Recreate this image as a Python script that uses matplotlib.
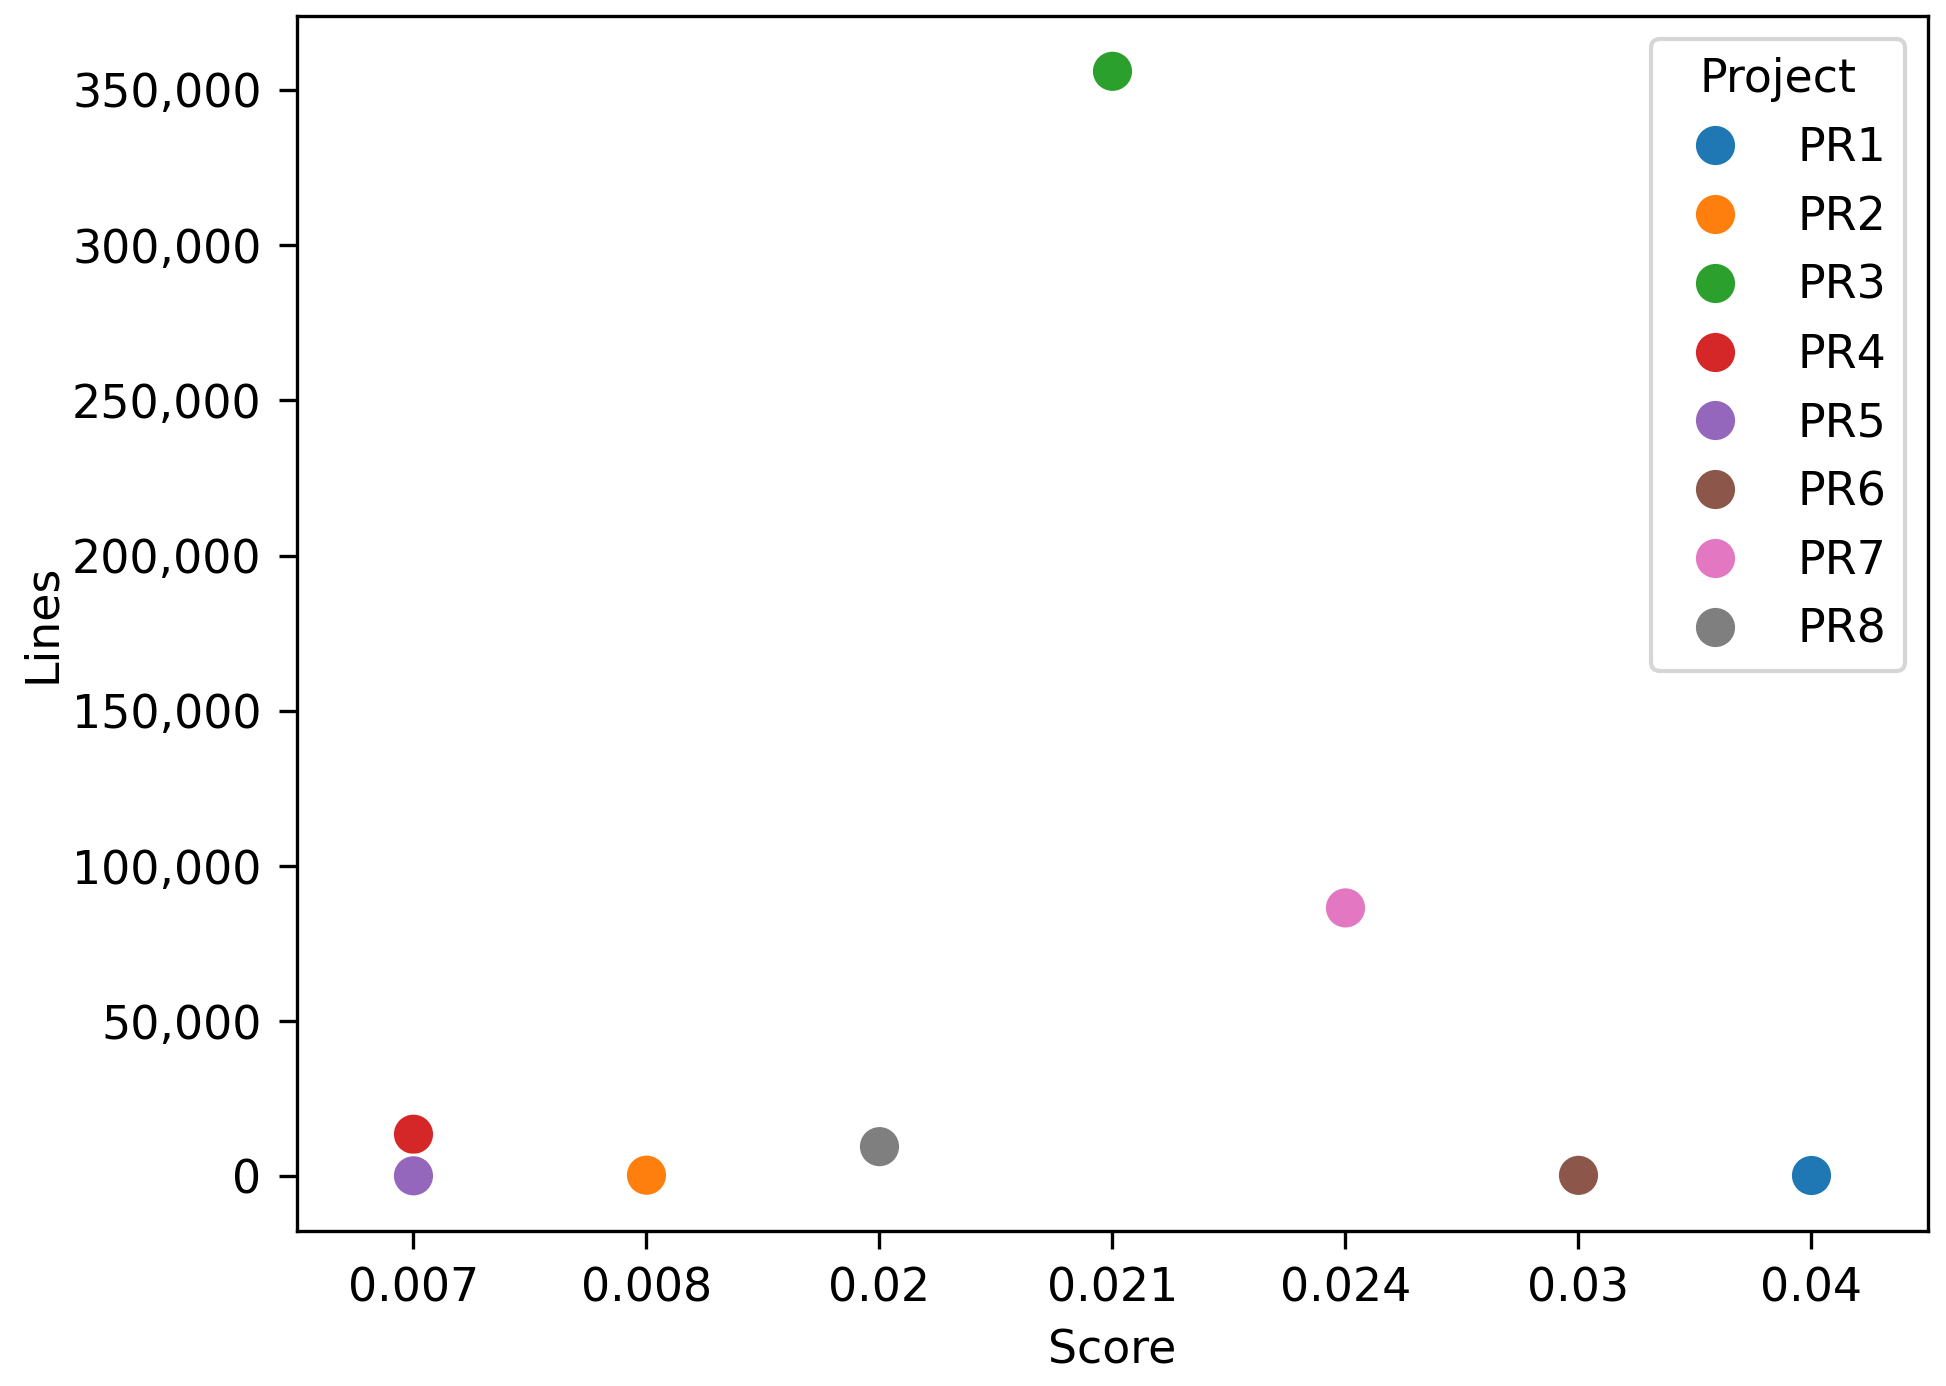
import matplotlib
matplotlib.use("Agg")
import matplotlib.pyplot as plt
import matplotlib.ticker as mticker
import pandas as pd
import seaborn as sns

# ---------------- data ----------------
projects = ["PR1", "PR2", "PR3", "PR4", "PR5", "PR6", "PR7", "PR8"]
scores = ["0.04", "0.008", "0.021", "0.007", "0.007", "0.03", "0.024", "0.02"]
lines = [300, 400, 356000, 13600, 200, 350, 86500, 9600]
score_order = ["0.007", "0.008", "0.02", "0.021", "0.024", "0.03", "0.04"]
# --------------------------------------

df = pd.DataFrame({"Project": projects, "Score": scores, "Lines": lines})
df["pos"] = df["Score"].map({s: i for i, s in enumerate(score_order)})

plt.rcParams["font.family"] = ["DejaVu Sans"]
plt.rcParams["font.size"] = 11
plt.rcParams["xtick.major.size"] = 4.3
plt.rcParams["ytick.major.size"] = 4.3
plt.rcParams["xtick.major.pad"] = 4.2
plt.rcParams["ytick.major.pad"] = 4.2

fig = plt.figure(figsize=(6.487, 4.62), dpi=300)
ax = fig.add_axes([0.1526, 0.1118, 0.8381, 0.8766])

sns.scatterplot(data=df, x="pos", y="Lines", hue="Project", palette="tab10",
                s=100, edgecolor="white", linewidth=0.6, ax=ax)

ax.set_xticks(range(len(score_order)))
ax.set_xticklabels(score_order)
ax.set_xlim(-0.5, len(score_order) - 0.5)
ax.set_xlabel("Score")
ax.set_ylabel("Lines", labelpad=1.6)
ax.yaxis.set_major_formatter(mticker.StrMethodFormatter("{x:,.0f}"))

ax.legend(title="Project", loc="upper right", labelspacing=0.52)

fig.savefig("out.png", dpi=300)
